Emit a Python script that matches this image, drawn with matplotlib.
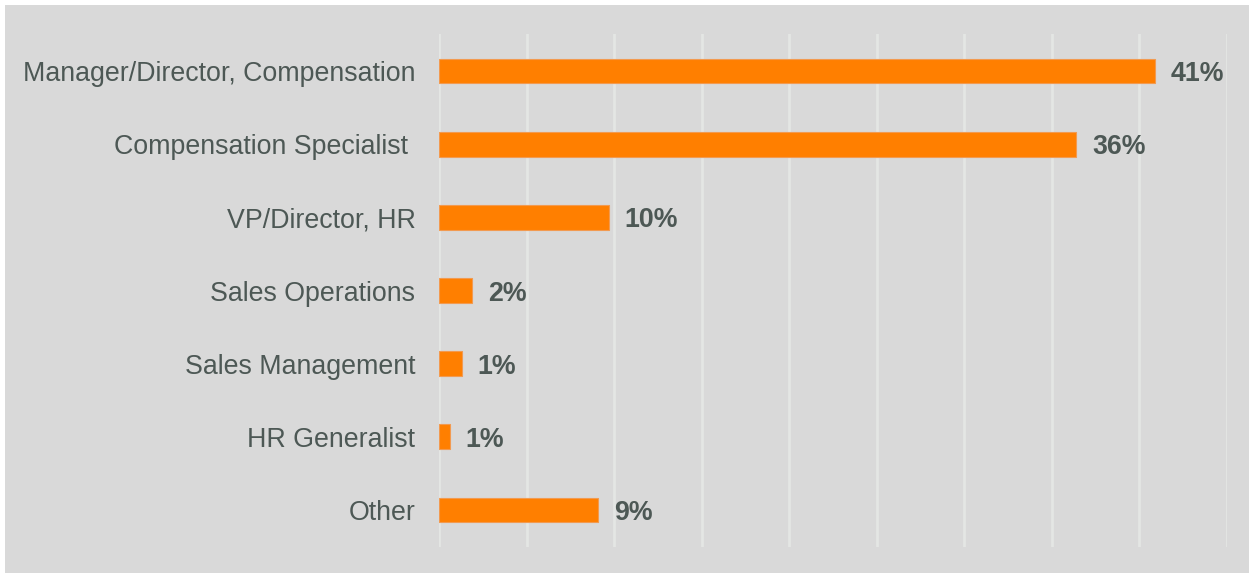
import matplotlib.pyplot as plt
from matplotlib.patches import Rectangle

# survey respondents by job role (share of total, %)
roles = ['Manager/Director, Compensation', 'Compensation Specialist ',
         'VP/Director, HR', 'Sales Operations', 'Sales Management',
         'HR Generalist', 'Other']
shares = [40.9, 36.4, 9.7, 1.9, 1.3, 0.6, 9.1]
x_ticks = [0, 5, 10, 15, 20, 25, 30, 35, 40, 45]

bg = '#d9d9d9'
orange = '#ff7f00'
txt = '#4d5855'

plt.rcParams['font.family'] = ['Liberation Sans', 'DejaVu Sans']

fig = plt.figure(figsize=(12.49, 5.73), dpi=100)
fig.patch.set_facecolor('white')
# grey panel behind the chart, with a thin white strip at top/left
fig.patches.append(Rectangle((5 / 1249, -0.01), 1.01, 1.01 - 5 / 573,
                             transform=fig.transFigure, facecolor=bg,
                             edgecolor='none', zorder=-10))

ax = fig.add_axes([439 / 1249, 1 - 546.6 / 573, 788 / 1249, 512.2 / 573])
ax.set_facecolor('none')

pos = list(range(len(roles)))
ax.barh(pos, shares, height=0.34, color=orange, edgecolor='#f29a50',
        linewidth=0.8, zorder=3)
for p, v in zip(pos, shares):
    ax.text(v + 0.9, p, '%.0f%%' % v, va='center_baseline', ha='left',
            fontsize=19.3, fontweight='bold', color=txt)

ax.set_xlim(0, 45)
ax.set_ylim(len(roles) - 0.5, -0.5)
ax.set_xticks(x_ticks)
ax.set_xticklabels([])
ax.set_yticks(pos)
ax.set_yticklabels(roles, fontsize=19.3, color=txt)
ax.tick_params(axis='both', length=0)
ax.tick_params(axis='y', pad=17)
ax.grid(axis='x', color='#e4e6e4', linewidth=2, zorder=0)
for s in ax.spines.values():
    s.set_visible(False)

fig.savefig('out.png', dpi=100, facecolor=fig.get_facecolor())
